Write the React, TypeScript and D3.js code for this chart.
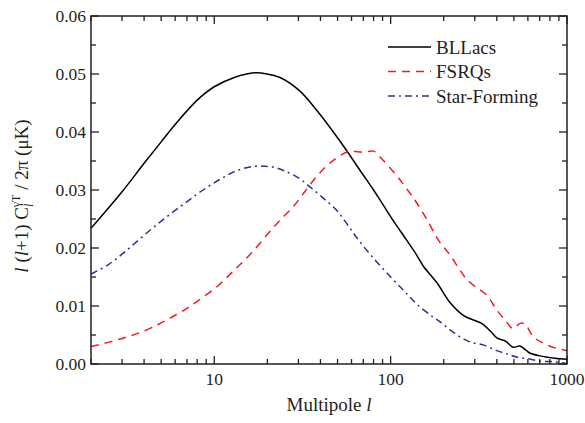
import React from "react";
import * as d3 from "d3";

const W = 585;
const H = 423;
const M = { left: 91, right: 18, top: 16, bottom: 59 };

const blLacsL = [2, 3, 4, 5, 6, 8, 10, 13, 17, 20, 23.6, 30.5, 38, 45, 56, 67, 80, 87, 103, 123, 141, 153, 183, 217, 258, 300, 328, 370, 400, 450, 495, 541, 590, 616, 702, 850, 1000];
const blLacsV = [0.0234, 0.0297, 0.0346, 0.0383, 0.0413, 0.0455, 0.0478, 0.0494, 0.0502, 0.05, 0.0494, 0.0471, 0.0438, 0.0409, 0.0369, 0.0334, 0.03, 0.0283, 0.0248, 0.0214, 0.0187, 0.0169, 0.014, 0.0106, 0.0084, 0.0075, 0.007, 0.0056, 0.0045, 0.0039, 0.0029, 0.0031, 0.0023, 0.0019, 0.0014, 0.001, 0.0008];

const fsrqL = [2, 3, 4, 5, 6, 7, 8, 10.5, 13, 16.2, 20.2, 23.6, 28, 32.6, 38, 45, 57.6, 70, 80, 87, 106, 118, 129, 137, 160, 186, 217, 247, 270, 300, 350, 400, 445, 495, 541, 577, 644, 733, 873, 1000];
const fsrqV = [0.003, 0.0044, 0.0057, 0.0071, 0.0084, 0.0096, 0.0108, 0.0135, 0.0162, 0.0191, 0.0225, 0.0248, 0.0271, 0.0297, 0.0323, 0.0346, 0.0366, 0.0365, 0.0367, 0.0357, 0.0328, 0.031, 0.0294, 0.0283, 0.025, 0.0214, 0.0188, 0.0162, 0.0146, 0.0134, 0.0119, 0.0093, 0.0076, 0.0061, 0.007, 0.0069, 0.0047, 0.0036, 0.0027, 0.0023];

const sfL = [2, 2.5, 3.1, 4, 5.23, 6.8, 8.63, 11, 13.6, 16.9, 19.3, 22, 25, 30, 35, 41.5, 49.4, 57.6, 64.2, 78, 100, 120, 141, 174, 190, 217, 247, 282, 335, 400, 450, 518, 600, 702, 835, 1000];
const sfV = [0.0155, 0.0171, 0.0193, 0.0222, 0.0251, 0.0277, 0.03, 0.032, 0.0334, 0.0341, 0.0341, 0.0339, 0.0333, 0.0321, 0.0305, 0.0286, 0.0265, 0.0238, 0.0218, 0.0186, 0.015, 0.0125, 0.0103, 0.0081, 0.0073, 0.0059, 0.0047, 0.0038, 0.0033, 0.0023, 0.0018, 0.0012, 0.0009, 0.0005, 0.0004, 0.0001];

const seriesNames = ["BLLacs", "FSRQs", "Star-Forming"];
const seriesColors = ["#000000", "#ee1c25", "#2e3192"];
const seriesDash = ["none", "8,6", "7,4,2,4"];

const yTicks = [0, 0.01, 0.02, 0.03, 0.04, 0.05, 0.06];
const yTickLabels = ["0.00", "0.01", "0.02", "0.03", "0.04", "0.05", "0.06"];
const xMajor = [10, 100, 1000];
const xMajorLabels = ["10", "100", "1000"];

export default function App() {
  const x = d3.scaleLog().domain([2, 1000]).range([M.left, W - M.right]);
  const y = d3.scaleLinear().domain([0, 0.06]).range([H - M.bottom, M.top]);
  const x0 = M.left, x1 = W - M.right, y0 = H - M.bottom, y1 = M.top;

  const line = d3
    .line<[number, number]>()
    .x((d) => x(d[0]))
    .y((d) => y(d[1]))
    .curve(d3.curveCatmullRom.alpha(0.5));

  const series = [
    blLacsL.map((l, i) => [l, blLacsV[i]] as [number, number]),
    fsrqL.map((l, i) => [l, fsrqV[i]] as [number, number]),
    sfL.map((l, i) => [l, sfV[i]] as [number, number]),
  ];

  const xMinor: number[] = [];
  for (const dec of [1, 10, 100]) {
    for (let k = 2; k <= 9; k++) {
      const v = dec * k;
      if (v >= 2 && v <= 1000) xMinor.push(v);
    }
  }
  const yMinor = d3.range(0.005, 0.06, 0.01);

  const axisColor = "#231f20";
  const font = "Liberation Serif, Times New Roman, serif";

  return (
    <svg width={W} height={H} style={{ position: "absolute", left: 0, top: 0, fontFamily: font }}>
      <rect x={0} y={0} width={W} height={H} fill="#fff" />
      <defs>
        <clipPath id="plot">
          <rect x={x0} y={y1} width={x1 - x0} height={y0 - y1} />
        </clipPath>
      </defs>
      {series.map((s, i) => (
        <path
          key={i}
          d={line(s) || ""}
          fill="none"
          stroke={seriesColors[i]}
          strokeWidth={1.5}
          strokeDasharray={seriesDash[i]}
          clipPath="url(#plot)"
        />
      ))}
      <rect x={x0} y={y1} width={x1 - x0} height={y0 - y1} fill="none" stroke={axisColor} strokeWidth={1.5} />
      {yTicks.map((t) => (
        <g key={"yt" + t}>
          <line x1={x0} x2={x0 + 8} y1={y(t)} y2={y(t)} stroke={axisColor} strokeWidth={1.3} />
          <line x1={x1} x2={x1 - 8} y1={y(t)} y2={y(t)} stroke={axisColor} strokeWidth={1.3} />
        </g>
      ))}
      {yMinor.map((t) => (
        <g key={"ym" + t}>
          <line x1={x0} x2={x0 + 5} y1={y(t)} y2={y(t)} stroke={axisColor} strokeWidth={1.3} />
          <line x1={x1} x2={x1 - 5} y1={y(t)} y2={y(t)} stroke={axisColor} strokeWidth={1.3} />
        </g>
      ))}
      {yTicks.map((t, i) => (
        <text key={"yl" + t} x={x0 - 5} y={y(t)} dy="0.35em" textAnchor="end" fontSize={17.5} fill="#231f20">
          {yTickLabels[i]}
        </text>
      ))}
      {xMajor.map((t) => (
        <g key={"xt" + t}>
          <line x1={x(t)} x2={x(t)} y1={y0} y2={y0 - 8} stroke={axisColor} strokeWidth={1.3} />
          <line x1={x(t)} x2={x(t)} y1={y1} y2={y1 + 8} stroke={axisColor} strokeWidth={1.3} />
        </g>
      ))}
      {xMinor.map((t) => (
        <g key={"xm" + t}>
          <line x1={x(t)} x2={x(t)} y1={y0} y2={y0 - 5} stroke={axisColor} strokeWidth={1.3} />
          <line x1={x(t)} x2={x(t)} y1={y1} y2={y1 + 5} stroke={axisColor} strokeWidth={1.3} />
        </g>
      ))}
      {xMajor.map((t, i) => (
        <text key={"xl" + t} x={x(t)} y={y0 + 21} textAnchor="middle" fontSize={17.5} fill="#231f20">
          {xMajorLabels[i]}
        </text>
      ))}
      <text x={(x0 + x1) / 2} y={411} textAnchor="middle" fontSize={19} fill="#231f20">
        Multipole <tspan fontStyle="italic">l</tspan>
      </text>
      <text transform={`translate(28,196) rotate(-90)`} textAnchor="middle" fontSize={19} fill="#231f20">
        <tspan fontStyle="italic">l</tspan> (<tspan fontStyle="italic">l</tspan>+1) C
        <tspan fontSize={12} fontStyle="italic" dy={5}>l</tspan>
        <tspan fontSize={12} dx={-3.5} dy={-13}>γT</tspan>
        <tspan dy={8}> / 2π (μK)</tspan>
      </text>
      {seriesNames.map((n, i) => {
        const ly = 47 + i * 24.5;
        return (
          <g key={n}>
            <line x1={388} x2={431} y1={ly} y2={ly} stroke={seriesColors[i]} strokeWidth={1.5} strokeDasharray={seriesDash[i]} />
            <text x={436} y={ly} dy="0.35em" fontSize={19} fill="#231f20">
              {n}
            </text>
          </g>
        );
      })}
    </svg>
  );
}
